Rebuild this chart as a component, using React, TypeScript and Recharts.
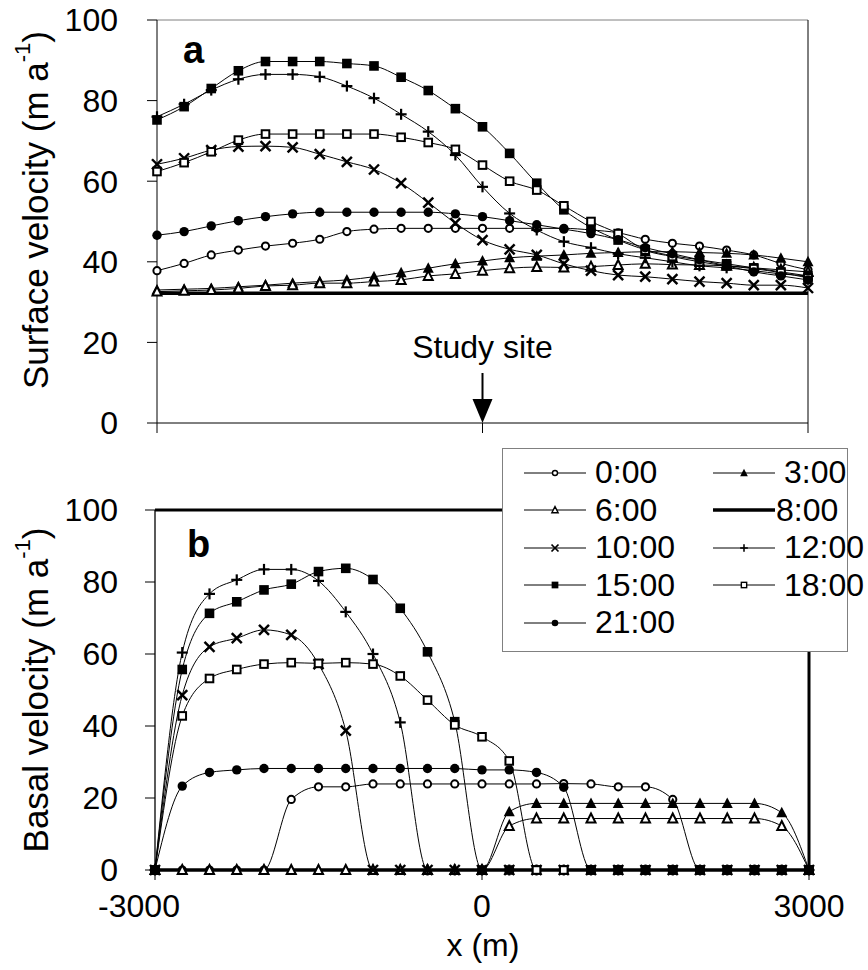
import React from 'react';
import { LineChart, Line, XAxis, YAxis, ReferenceLine, ReferenceDot, Legend } from 'recharts';

// x positions along the flow line (m)
const xPos = [
  -3000, -2750, -2500, -2250, -2000, -1750, -1500, -1250, -1000, -750, -500, -250, 0,
  250, 500, 750, 1000, 1250, 1500, 1750, 2000, 2250, 2500, 2750, 3000,
];

// panel a: surface velocity (m/a)
const surf00 = [37.8, 39.6, 41.7, 42.9, 43.9, 44.6, 45.6, 47.5, 48.1, 48.3, 48.3, 48.3, 48.3, 48.3, 48.3, 48.3, 47.9, 47.2, 45.6, 44.6, 43.9, 42.9, 41.7, 39.6, 38];
const surf03 = [33, 33.2, 33.4, 33.8, 34.2, 34.7, 35.1, 35.5, 36.3, 37.3, 38.4, 39.5, 40.2, 41.0, 41.4, 41.7, 42.1, 42.3, 42.5, 42.5, 42.3, 42.1, 41.7, 40.9, 40];
const surf06 = [32.6, 32.8, 33, 33.4, 34, 34.2, 34.7, 34.7, 35.1, 35.5, 36.5, 37, 37.8, 38.4, 38.7, 38.6, 38.8, 39.2, 39.5, 39.3, 39.2, 39, 38.5, 38, 37.5];
const surf08 = [32.2, 32.2, 32.2, 32.2, 32.2, 32.2, 32.2, 32.2, 32.2, 32.2, 32.2, 32.2, 32.2, 32.2, 32.2, 32.2, 32.2, 32.2, 32.2, 32.2, 32.2, 32.2, 32.2, 32.2, 32.2];
const surf10 = [64.2, 65.7, 67.7, 68.6, 68.7, 68.4, 66.7, 64.8, 62.9, 59.5, 54.7, 49.6, 45.4, 43.1, 41.7, 39.5, 37.8, 36.7, 36.3, 35.7, 35.1, 34.7, 34.2, 34.2, 33.5];
const surf12 = [76, 79.1, 82.6, 85.3, 86.5, 86.5, 85.9, 83.6, 80.6, 76.6, 72.3, 66.5, 58.6, 52, 47.9, 45, 43.5, 42, 41, 40, 39, 38.5, 37.8, 37, 36.5];
const surf15 = [75.2, 78.5, 83.0, 87.4, 89.7, 89.7, 89.7, 89.2, 88.6, 85.8, 82.5, 78.0, 73.5, 66.9, 59.5, 52.9, 48.5, 45.4, 43, 41.5, 40.5, 39.5, 38.5, 37.5, 36.5];
const surf18 = [62.4, 64.6, 67.3, 70.2, 71.7, 71.7, 71.7, 71.7, 71.7, 70.9, 69.6, 67.9, 64, 60, 57.8, 53.9, 50, 47, 42.9, 41.3, 40, 39, 38.3, 37.3, 36];
const surf21 = [46.6, 47.5, 48.9, 50.2, 51.2, 51.9, 52.3, 52.3, 52.3, 52.3, 52.3, 51.9, 51.2, 50.2, 49.2, 48.1, 47, 45.5, 43.5, 42, 40.5, 39, 37.5, 36.5, 35.5];

// panel b: basal velocity (m/a)
const bas00 = [0, 0, 0, 0, 0, 19.6, 23.1, 23.1, 23.9, 23.9, 23.9, 23.9, 23.9, 23.9, 23.9, 24, 23.9, 23.1, 23.1, 19.6, 0, 0, 0, 0, 0];
const bas03 = [0, 0, 0, 0, 0, 0, 0, 0, 0, 0, 0, 0, 0, 16.2, 18.5, 18.5, 18.5, 18.5, 18.5, 18.5, 18.5, 18.5, 18.5, 15.9, 0];
const bas06 = [0, 0, 0, 0, 0, 0, 0, 0, 0, 0, 0, 0, 0, 12.2, 14.3, 14.3, 14.3, 14.3, 14.3, 14.3, 14.3, 14.3, 14.3, 12.2, 0];
const bas08 = [0, 0, 0, 0, 0, 0, 0, 0, 0, 0, 0, 0, 0, 0, 0, 0, 0, 0, 0, 0, 0, 0, 0, 0, 0];
const bas10 = [0, 48.6, 62, 64.4, 66.7, 65.3, 57.2, 38.7, 0, 0, 0, 0, 0, 0, 0, 0, 0, 0, 0, 0, 0, 0, 0, 0, 0];
const bas12 = [0, 60.4, 76.7, 80.6, 83.5, 83.5, 80.3, 71.7, 60, 41, 0, 0, 0, 0, 0, 0, 0, 0, 0, 0, 0, 0, 0, 0, 0];
const bas15 = [0, 55.7, 71.3, 74.5, 77.8, 79.4, 82.9, 83.8, 80.7, 72.7, 60.6, 41.2, 0, 0, 0, 0, 0, 0, 0, 0, 0, 0, 0, 0, 0];
const bas18 = [0, 42.8, 53.2, 55.7, 57.2, 57.6, 57.4, 57.6, 57.2, 53.9, 47.2, 40.3, 37, 30.3, 0, 0, 0, 0, 0, 0, 0, 0, 0, 0, 0];
const bas21 = [0, 23.3, 27.1, 27.8, 28.2, 28.2, 28.2, 28.2, 28.2, 28.2, 28.2, 28.2, 27.8, 27.8, 27.1, 23, 0, 0, 0, 0, 0, 0, 0, 0, 0];

const yTicks = [0, 20, 40, 60, 80, 100];
const xTicks = [-3000, 0, 3000];

const FONT = '"Liberation Sans", Arial, Helvetica, sans-serif';

type Mk = 'oc' | 'ft' | 'ot' | 'none' | 'x' | 'plus' | 'fs' | 'os' | 'fc';

const SERIES: { key: string; name: string; mk: Mk; a: number[]; b: number[] }[] = [
  { key: 't8', name: '8:00', mk: 'none', a: surf08, b: bas08 },
  { key: 't0', name: '0:00', mk: 'oc', a: surf00, b: bas00 },
  { key: 't3', name: '3:00', mk: 'ft', a: surf03, b: bas03 },
  { key: 't6', name: '6:00', mk: 'ot', a: surf06, b: bas06 },
  { key: 't10', name: '10:00', mk: 'x', a: surf10, b: bas10 },
  { key: 't12', name: '12:00', mk: 'plus', a: surf12, b: bas12 },
  { key: 't15', name: '15:00', mk: 'fs', a: surf15, b: bas15 },
  { key: 't18', name: '18:00', mk: 'os', a: surf18, b: bas18 },
  { key: 't21', name: '21:00', mk: 'fc', a: surf21, b: bas21 },
];

// legend order (two columns, row by row)
const legendOrder = ['t0', 't3', 't6', 't8', 't10', 't12', 't15', 't18', 't21'];

const dataA = xPos.map((x, i) => {
  const row: any = { x };
  SERIES.forEach(s => { row[s.key] = s.a[i]; });
  return row;
});
const dataB = xPos.map((x, i) => {
  const row: any = { x };
  SERIES.forEach(s => { row[s.key] = s.b[i]; });
  return row;
});

const Marker = ({ kind, cx, cy, s }: { kind: Mk; cx: number; cy: number; s: number }) => {
  if (cx == null || cy == null) return <g />;
  switch (kind) {
    case 'oc':
      return <circle cx={cx} cy={cy} r={s * 0.36} fill="#fff" stroke="#000" strokeWidth={s * 0.2} />;
    case 'fc':
      return <circle cx={cx} cy={cy} r={s * 0.47} fill="#000" />;
    case 'ft':
      return <polygon points={`${cx},${cy - s * 0.6} ${cx - s * 0.55},${cy + s * 0.45} ${cx + s * 0.55},${cy + s * 0.45}`} fill="#000" />;
    case 'ot':
      return <polygon points={`${cx},${cy - s * 0.5} ${cx - s * 0.45},${cy + s * 0.4} ${cx + s * 0.45},${cy + s * 0.4}`} fill="#fff" stroke="#000" strokeWidth={s * 0.2} strokeLinejoin="miter" />;
    case 'x':
      return (
        <g stroke="#000" strokeWidth={s * 0.24}>
          <line x1={cx - s * 0.5} y1={cy - s * 0.5} x2={cx + s * 0.5} y2={cy + s * 0.5} />
          <line x1={cx - s * 0.5} y1={cy + s * 0.5} x2={cx + s * 0.5} y2={cy - s * 0.5} />
        </g>
      );
    case 'plus':
      return (
        <g stroke="#000" strokeWidth={s * 0.22}>
          <line x1={cx - s * 0.55} y1={cy} x2={cx + s * 0.55} y2={cy} />
          <line x1={cx} y1={cy - s * 0.55} x2={cx} y2={cy + s * 0.55} />
        </g>
      );
    case 'fs':
      return <rect x={cx - s * 0.48} y={cy - s * 0.48} width={s * 0.96} height={s * 0.96} fill="#000" />;
    case 'os':
      return <rect x={cx - s * 0.38} y={cy - s * 0.38} width={s * 0.76} height={s * 0.76} fill="#fff" stroke="#000" strokeWidth={s * 0.2} />;
    default:
      return <g />;
  }
};

const renderLines = () =>
  SERIES.map(s => (
    <Line
      key={s.key}
      dataKey={s.key}
      name={s.name}
      type="monotone"
      stroke="#000"
      strokeWidth={s.mk === 'none' ? 3.5 : 1}
      dot={s.mk === 'none' ? false : (p: any) => <Marker key={`${s.key}-${p.index}`} kind={s.mk} cx={p.cx} cy={p.cy} s={10} />}
      activeDot={false}
      isAnimationActive={false}
    />
  ));

const YTitle = ({ cx, cy, main }: { cx: number; cy: number; main: string }) => (
  <text
    x={cx}
    y={cy}
    transform={`rotate(-90 ${cx} ${cy})`}
    textAnchor="middle"
    dominantBaseline="central"
    fontSize={35}
    fontFamily={FONT}
    fill="#000"
  >
    {main} (m a<tspan dy={-13} fontSize={22}>-1</tspan><tspan dy={13}>)</tspan>
  </text>
);

const XTitle = () => (
  <text x={483} y={956} textAnchor="middle" fontSize={32} fontFamily={FONT} fill="#000">x (m)</text>
);

const noTick = () => <g />;

const xTickB = (p: any) => {
  const v = p.payload.value;
  return (
    <text x={p.x + (v < 0 ? -16 : 0)} y={p.y} dy="0.71em" textAnchor="middle" fontSize={32} fontFamily={FONT} fill="#000">
      {v}
    </text>
  );
};

const PanelLetter = (letter: string, dx: number, dy: number) => (p: any) => (
  <text x={p.cx + dx} y={p.cy + dy} fontSize={38} fontWeight="bold" fontFamily={FONT} fill="#000">{letter}</text>
);

const StudySite = (p: any) => (
  <g>
    <text x={p.cx} y={p.cy - 65} textAnchor="middle" fontSize={32} fontFamily={FONT} fill="#000">Study site</text>
    <line x1={p.cx} y1={p.cy - 50} x2={p.cx} y2={p.cy - 22} stroke="#000" strokeWidth={2} />
    <polygon points={`${p.cx - 10},${p.cy - 24} ${p.cx + 10},${p.cy - 24} ${p.cx},${p.cy}`} fill="#000" />
  </g>
);

const LegendBox = () => (
  <div
    style={{
      width: 346,
      height: 204,
      boxSizing: 'border-box',
      border: '1px solid #808080',
      background: '#fff',
      position: 'relative',
      fontFamily: FONT,
      fontSize: 32,
      color: '#000',
    }}
  >
    {legendOrder.map((k, idx) => {
      const s = SERIES.find(t => t.key === k)!;
      const col = idx % 2;
      const row = Math.floor(idx / 2);
      return (
        <div
          key={k}
          style={{
            position: 'absolute',
            left: col === 0 ? 21 : 210,
            top: 5 + row * 37.5,
            height: 37.5,
            display: 'flex',
            alignItems: 'center',
            whiteSpace: 'nowrap',
          }}
        >
          <svg width={62} height={20} style={{ display: 'block' }}>
            <line x1={0} y1={10} x2={62} y2={10} stroke="#000" strokeWidth={s.mk === 'none' ? 3.5 : 1} />
            <Marker kind={s.mk} cx={31} cy={10} s={7} />
          </svg>
          <span style={{ marginLeft: s.mk === 'none' ? 1 : 9, lineHeight: '37.5px' }}>{s.name}</span>
        </div>
      );
    })}
  </div>
);

const tickStyle = { fontSize: 32, fill: '#000', fontFamily: FONT };

export default function App() {
  return (
    <div style={{ position: 'absolute', left: 0, top: 0, width: 868, height: 970, background: '#fff' }}>
      <div style={{ position: 'absolute', left: 0, top: 0 }}>
        <LineChart width={868} height={970} data={dataA} margin={{ top: 20, right: 60, bottom: 517, left: 97 }}>
          <XAxis
            dataKey="x"
            type="number"
            domain={[-3000, 3000]}
            ticks={xTicks}
            height={30}
            tickSize={10}
            tick={noTick}
            axisLine={{ stroke: '#000', strokeWidth: 1 }}
            tickLine={{ stroke: '#000' }}
          />
          <YAxis
            type="number"
            domain={[0, 100]}
            ticks={yTicks}
            width={60}
            tickSize={10}
            tickMargin={29}
            tick={tickStyle}
            axisLine={{ stroke: '#000', strokeWidth: 1 }}
            tickLine={{ stroke: '#000' }}
            label={<YTitle cx={35} cy={210} main="Surface velocity" />}
          />
          <ReferenceLine y={100} stroke="#808080" strokeWidth={1} />
          <ReferenceLine x={3000} stroke="#000" strokeWidth={1} />
          {renderLines()}
          <ReferenceDot x={-3000} y={100} r={0} shape={PanelLetter('a', 26, 43)} />
          <ReferenceDot x={0} y={0} r={0} shape={StudySite} />
        </LineChart>
      </div>
      <div style={{ position: 'absolute', left: 0, top: 0 }}>
        <LineChart width={868} height={970} data={dataB} margin={{ top: 510, right: 59, bottom: 0, left: 95 }}>
          <XAxis
            dataKey="x"
            type="number"
            domain={[-3000, 3000]}
            ticks={xTicks}
            height={100}
            tickSize={10}
            tickMargin={14}
            tick={xTickB}
            axisLine={{ stroke: '#000', strokeWidth: 1 }}
            tickLine={{ stroke: '#000' }}
            label={<XTitle />}
          />
          <YAxis
            type="number"
            domain={[0, 100]}
            ticks={yTicks}
            width={60}
            tickSize={10}
            tickMargin={27}
            tick={tickStyle}
            axisLine={{ stroke: '#000', strokeWidth: 1.3 }}
            tickLine={{ stroke: '#000' }}
            label={<YTitle cx={35} cy={690} main="Basal velocity" />}
          />
          <ReferenceLine y={100} stroke="#000" strokeWidth={3} />
          <ReferenceLine x={3000} stroke="#000" strokeWidth={3} />
          {renderLines()}
          <ReferenceDot x={-3000} y={100} r={0} shape={PanelLetter('b', 32, 47)} />
          <Legend
            layout="vertical"
            align="center"
            verticalAlign="middle"
            wrapperStyle={{ left: 502, top: 448, width: 346, height: 204 }}
            content={() => <LegendBox />}
          />
        </LineChart>
      </div>
    </div>
  );
}
